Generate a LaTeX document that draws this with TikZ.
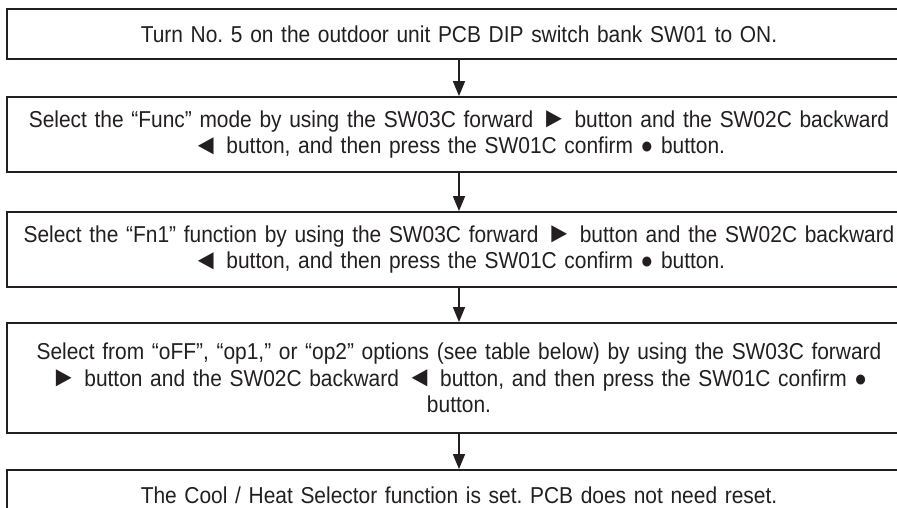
\documentclass[tikz,border=0pt]{standalone}
\usepackage{fontspec}
\setmainfont[FakeStretch=0.91]{Liberation Sans}
\usepackage{xcolor}
\usepackage{graphicx}
\usetikzlibrary{arrows.meta}
\definecolor{flowink}{HTML}{231F20}
\newcommand{\fwdtri}{\raisebox{-0.05ex}{\scalebox{1.25}{►}}}
\newcommand{\backtri}{\raisebox{-0.05ex}{\scalebox{1.25}{◄}}}
\tikzset{
  stepbox/.style={draw=flowink,line width=1.8pt,minimum width=904pt,text width=900pt,
    align=center,inner sep=0pt,text=flowink,font=\fontsize{23}{26.5}\selectfont\frenchspacing},
  flowarrow/.style={draw=flowink,line width=1.6pt,-{Triangle[length=15pt,width=12pt]}}
}

\begin{document}
\begin{tikzpicture}[x=1pt,y=-1pt]
  \useasboundingbox (0,0) rectangle (897,508);
  \clip (0,0) rectangle (897,508);
  % steps
  \node[stepbox,minimum height=50pt] (turnon) at (459,34)
    {Turn No. 5 on the outdoor unit PCB DIP switch bank SW01 to ON.};
  \node[stepbox,minimum height=75pt] (selfunc) at (459,134.5)
    {Select the “Func” mode by using the SW03C forward \fwdtri{} button and the SW02C backward\\
     \backtri{} button, and then press the SW01C confirm ● button.};
  \node[stepbox,minimum height=75pt] (selfn) at (459,249.5)
    {Select the “Fn1” function by using the SW03C forward \fwdtri{} button and the SW02C backward\\
     \backtri{} button, and then press the SW01C confirm ● button.};
  \node[stepbox,minimum height=110pt] (selopt) at (459,378)
    {Select from “oFF”, “op1,” or “op2” options (see table below) by using the SW03C forward\\
     \fwdtri{} button and the SW02C backward \backtri{} button, and then press the SW01C confirm ●\\
     button.};
  \node[stepbox,minimum height=50pt] (isset) at (459,495)
    {The Cool / Heat Selector function is set. PCB does not need reset.};
  % arrows
  \draw[flowarrow] (turnon.south) -- (selfunc.north);
  \draw[flowarrow] (selfunc.south) -- (selfn.north);
  \draw[flowarrow] (selfn.south) -- (selopt.north);
  \draw[flowarrow] (selopt.south) -- (isset.north);
\end{tikzpicture}
\end{document}
